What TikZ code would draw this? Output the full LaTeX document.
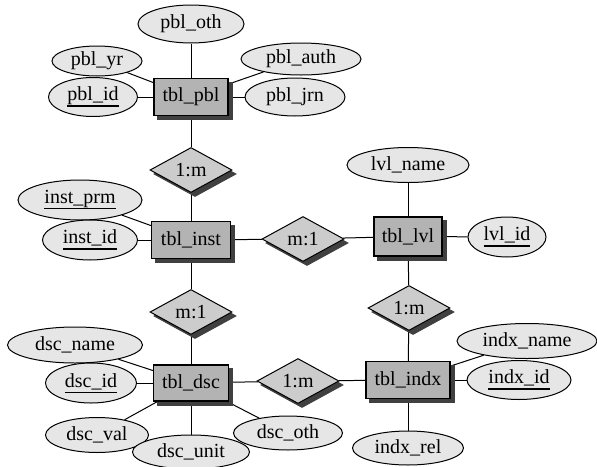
\documentclass[tikz,border=0pt]{standalone}
\usepackage{fontspec}
\setmainfont{Liberation Serif}
\usetikzlibrary{shapes.geometric,backgrounds}
\definecolor{attrfill}{HTML}{E6E6E6}
\definecolor{tblfill}{HTML}{B3B3B3}
\definecolor{relfill}{HTML}{CCCCCC}
\definecolor{shadowgray}{HTML}{404040}
\newcommand{\ulthin}[1]{\setbox0\hbox{#1}\rlap{\rule[-5.5pt]{\wd0}{1pt}}\box0}
\newcommand{\ulthick}[1]{\setbox0\hbox{#1}\rlap{\rule[-6.5pt]{\wd0}{2pt}}\box0}
\begin{document}
\begin{tikzpicture}[x=1pt,y=1pt,
  every node/.style={font=\rmfamily\fontsize{20}{24}\selectfont, inner sep=0pt},
  shadowed/.style={preaction={fill=shadowgray, draw=shadowgray, transform canvas={xshift=4pt,yshift=-4pt}}},
  attr/.style={ellipse, draw, line width=1pt, fill=attrfill},
  tbl/.style={rectangle, draw, line width=1.3pt, fill=tblfill, inner xsep=8pt,
    minimum height=37pt, shadowed},
  rel/.style={diamond, draw, line width=1pt, fill=relfill, minimum width=82pt,
    minimum height=45pt, shadowed},
  conn/.style={line width=1pt}]
\useasboundingbox (0,0) rectangle (597,-466);

% tables
\node[tbl, minimum width=74pt] (tbl_pbl) at (191,-97) {tbl\_pbl};
\node[tbl, minimum width=79pt] (tbl_inst) at (191,-240) {tbl\_inst};
\node[tbl, minimum width=68pt, minimum height=39pt] (tbl_lvl) at (408,-236.5) {tbl\_lvl};
\node[tbl, minimum width=75pt, minimum height=36pt] (tbl_dsc) at (191,-383) {tbl\_dsc};
\node[tbl, minimum width=84pt] (tbl_indx) at (408,-380) {tbl\_indx};

% relations
\node[rel] (r_pbl_inst) at (191,-170) {1:m};
\node[rel] (r_inst_lvl) at (303,-239) {m:1};
\node[rel] (r_inst_dsc) at (191,-312) {m:1};
\node[rel] (r_lvl_indx) at (409,-308) {1:m};
\node[rel] (r_dsc_indx) at (298,-381) {1:m};

% attributes
\node[attr, minimum width=106pt, minimum height=38pt] (pbl_oth) at (191,-24) {pbl\_oth};
\node[attr, minimum width=90pt, minimum height=30pt] (pbl_yr) at (97,-61) {pbl\_yr};
\node[attr, minimum width=89pt, minimum height=39pt] (pbl_id) at (93,-97) {\ulthick{pbl\_id}};
\node[attr, minimum width=120pt, minimum height=32pt] (pbl_auth) at (301,-59) {pbl\_auth};
\node[attr, minimum width=100pt, minimum height=38pt] (pbl_jrn) at (295,-97) {pbl\_jrn};
\node[attr, minimum width=124pt, minimum height=40pt] (inst_prm) at (80,-200) {\ulthin{inst\_prm}};
\node[attr, minimum width=95pt, minimum height=40pt] (inst_id) at (90,-240) {\ulthick{inst\_id}};
\node[attr, minimum width=122pt, minimum height=35pt] (lvl_name) at (408,-165) {lvl\_name};
\node[attr, minimum width=78pt, minimum height=40pt] (lvl_id) at (507,-237) {\ulthick{lvl\_id}};
\node[attr, minimum width=135pt, minimum height=36pt] (dsc_name) at (75,-345) {dsc\_name};
\node[attr, minimum width=91pt, minimum height=40pt] (dsc_id) at (91,-383) {\ulthin{dsc\_id}};
\node[attr, minimum width=103pt, minimum height=35pt] (dsc_val) at (97,-435) {dsc\_val};
\node[attr, minimum width=117pt, minimum height=34pt] (dsc_unit) at (191,-452) {dsc\_unit};
\node[attr, minimum width=109pt, minimum height=34pt] (dsc_oth) at (288,-433) {dsc\_oth};
\node[attr, minimum width=140pt, minimum height=35pt] (indx_name) at (527,-341) {indx\_name};
\node[attr, minimum width=104pt, minimum height=39pt] (indx_id) at (519,-380) {\ulthick{indx\_id}};
\node[attr, minimum width=111pt, minimum height=34pt] (indx_rel) at (408,-448) {indx\_rel};

\begin{scope}[on background layer]
\fill[white] (0,0) rectangle (597,-466);
\draw[conn] (tbl_pbl) -- (pbl_oth);
\draw[conn] (tbl_pbl) -- (pbl_yr);
\draw[conn] (tbl_pbl) -- (pbl_id);
\draw[conn] (tbl_pbl) -- (pbl_auth);
\draw[conn] (tbl_pbl) -- (pbl_jrn);
\draw[conn] (tbl_pbl) -- (r_pbl_inst);
\draw[conn] (r_pbl_inst) -- (tbl_inst);
\draw[conn] (tbl_inst) -- (inst_prm);
\draw[conn] (tbl_inst) -- (inst_id);
\draw[conn] (tbl_inst) -- (r_inst_lvl);
\draw[conn] (r_inst_lvl) -- (tbl_lvl);
\draw[conn] (tbl_inst) -- (r_inst_dsc);
\draw[conn] (r_inst_dsc) -- (tbl_dsc);
\draw[conn] (tbl_lvl) -- (lvl_name);
\draw[conn] (tbl_lvl) -- (lvl_id);
\draw[conn] (tbl_lvl) -- (r_lvl_indx);
\draw[conn] (r_lvl_indx) -- (tbl_indx);
\draw[conn] (tbl_dsc) -- (dsc_name);
\draw[conn] (tbl_dsc) -- (dsc_id);
\draw[conn] (tbl_dsc) -- (dsc_val);
\draw[conn] (tbl_dsc) -- (dsc_unit);
\draw[conn] (tbl_dsc) -- (dsc_oth);
\draw[conn] (tbl_dsc) -- (r_dsc_indx);
\draw[conn] (r_dsc_indx) -- (tbl_indx);
\draw[conn] (tbl_indx) -- (indx_name);
\draw[conn] (tbl_indx) -- (indx_id);
\draw[conn] (tbl_indx) -- (indx_rel);
\end{scope}
\end{tikzpicture}
\end{document}
